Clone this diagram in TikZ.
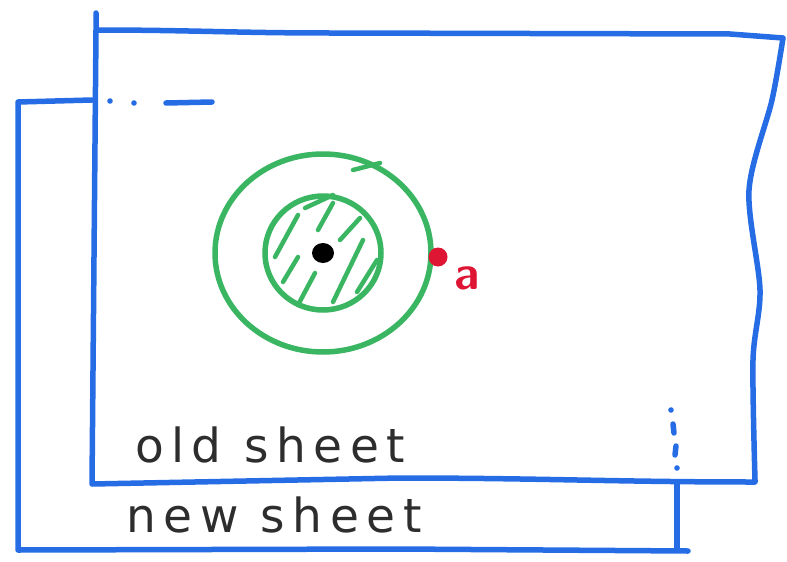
\documentclass[tikz,border=0pt]{standalone}
\usepackage{fontspec}
\newfontfamily\handfont[LetterSpace=16]{DejaVu Sans}
\usetikzlibrary{calc, positioning}

\definecolor{sheetblue}{RGB}{38,108,228}
\definecolor{ringgreen}{RGB}{58,182,98}
\definecolor{pointred}{RGB}{222,22,52}
\definecolor{inkgray}{RGB}{45,45,45}

\tikzset{
  sheet/.style={draw=sheetblue, line width=5.5pt, line cap=round, line join=round},
  hidden/.style={sheetblue, line width=5.5pt, line cap=round},
  ring/.style={draw=ringgreen, line width=5.5pt},
  hatch/.style={ringgreen, line width=4.5pt, line cap=round},
  sheetlabel/.style={inkgray, font=\handfont\fontsize{47}{47}\selectfont, inner sep=0pt}
}

\begin{document}
\begin{tikzpicture}[x=1pt, y=-1pt]
\def\cx{323}
\def\cy{253}

\useasboundingbox (0,0) rectangle (787,562);

% new sheet (behind)
\draw[sheet] (92,100) -- (18,102) -- (18,550) -- (400,549) -- (688,551);
\draw[sheet] (677,484) -- (677,550);
\fill[hidden] (110,101) circle (2.8pt) (134,103) circle (2.8pt);
\draw[hidden] (166,103) -- (212,102);
\fill[hidden] (671,410) circle (2.8pt) (677,468) circle (2.8pt);
\draw[hidden] (673,424) -- (674,433);
\draw[hidden] (676,446) -- (675,455);

% old sheet (front)
\draw[sheet] (96,13) -- (96,30) to[out=0, in=180] (330,33) -- (730,34) -- (783,38)
  plot[smooth] coordinates {(783,38) (772,100) (749,190) (760,290) (753,360) (755,480)}
  -- (755,482) to[out=180, in=0] (400,478) -- (92,484) -- (96,30);

% rings
\draw[ring] (\cx,\cy) ellipse (108pt and 99pt);
\draw[ring] (\cx,\cy) ellipse (58pt and 57pt);
\draw[hatch] (353,170) -- (380,163);
\foreach \a/\b/\c/\d in {275/257/298/215, 305/208/333/195, 318/230/333/203,
  340/240/360/218, 283/282/298/257, 298/305/315/273, 333/302/363/240, 357/292/377/260}
  \draw[hatch] (\a,\b) -- (\c,\d);
\fill[black] (\cx,\cy) ellipse (11pt and 10pt);

% point a
\node[circle, fill=pointred, minimum size=19pt, inner sep=0pt] (pa) at (438,257) {};
\node[pointred, font=\sffamily\bfseries\fontsize{48}{48}\selectfont, inner sep=0pt] (la)
  at (467,278) {a};

\node[sheetlabel] (old) at (270,445) {old sheet};
\node[sheetlabel] (new) at (274,515) {new sheet};
\end{tikzpicture}
\end{document}
